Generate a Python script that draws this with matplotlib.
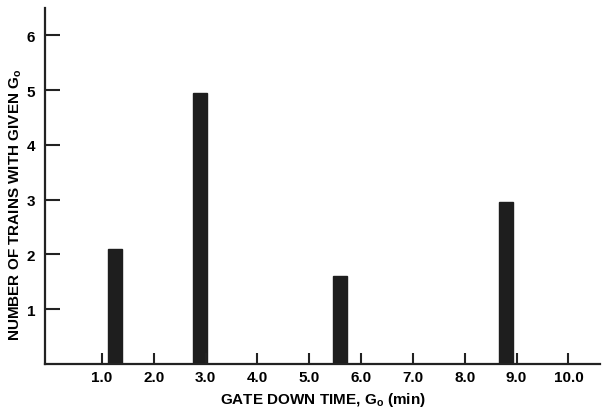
import matplotlib
matplotlib.use("Agg")
import matplotlib.pyplot as plt

plt.rcParams['font.family'] = ['Liberation Sans', 'DejaVu Sans']
plt.rcParams['font.weight'] = 'bold'

# Data
gate_times = [1.25, 2.9, 5.6, 8.8]
train_counts = [2.1, 4.95, 1.6, 2.95]
x_ticks = [1, 2, 3, 4, 5, 6, 7, 8, 9, 10]
x_tick_labels = ['1.0', '2.0', '3.0', '4.0', '5.0', '6.0', '7.0', '8.0', '9.0', '10.0']
y_ticks = [1, 2, 3, 4, 5, 6]
y_tick_labels = ['1', '2', '3', '4', '5', '6']

W, H = 605, 414
fig = plt.figure(figsize=(W / 100, H / 100), dpi=100)
ax = fig.add_axes([45 / W, (H - 365) / H, (600 - 45) / W, (365 - 9) / H])

ax.bar(gate_times, train_counts, width=0.27, color='#1e1e1e', edgecolor='#1e1e1e')

ax.set_xlim(-0.1, 10.61)
ax.set_ylim(0, 6.5)

ax.set_xticks(x_ticks)
ax.set_xticklabels(x_tick_labels, fontsize=11, fontweight='bold')
ax.set_yticks(y_ticks)
ax.set_yticklabels(y_tick_labels, fontsize=11, fontweight='bold')

ax.tick_params(axis='x', direction='in', length=8, width=1.5, pad=4, color='#222222')
ax.tick_params(axis='y', direction='in', length=11, width=1.5, pad=7, color='#222222')

for s in ['top', 'right']:
    ax.spines[s].set_visible(False)
for s in ['left', 'bottom']:
    ax.spines[s].set_linewidth(1.6)
    ax.spines[s].set_color('#222222')

ax.set_xlabel('GATE DOWN TIME, G$_\\mathregular{o}$ (min)', fontsize=11, fontweight='bold', labelpad=5)
ax.set_ylabel('NUMBER OF TRAINS WITH GIVEN G$_\\mathregular{o}$', fontsize=11, fontweight='bold')
ax.yaxis.set_label_coords(-0.038, 0.45)

fig.savefig('out.png', dpi=100, facecolor='white')
